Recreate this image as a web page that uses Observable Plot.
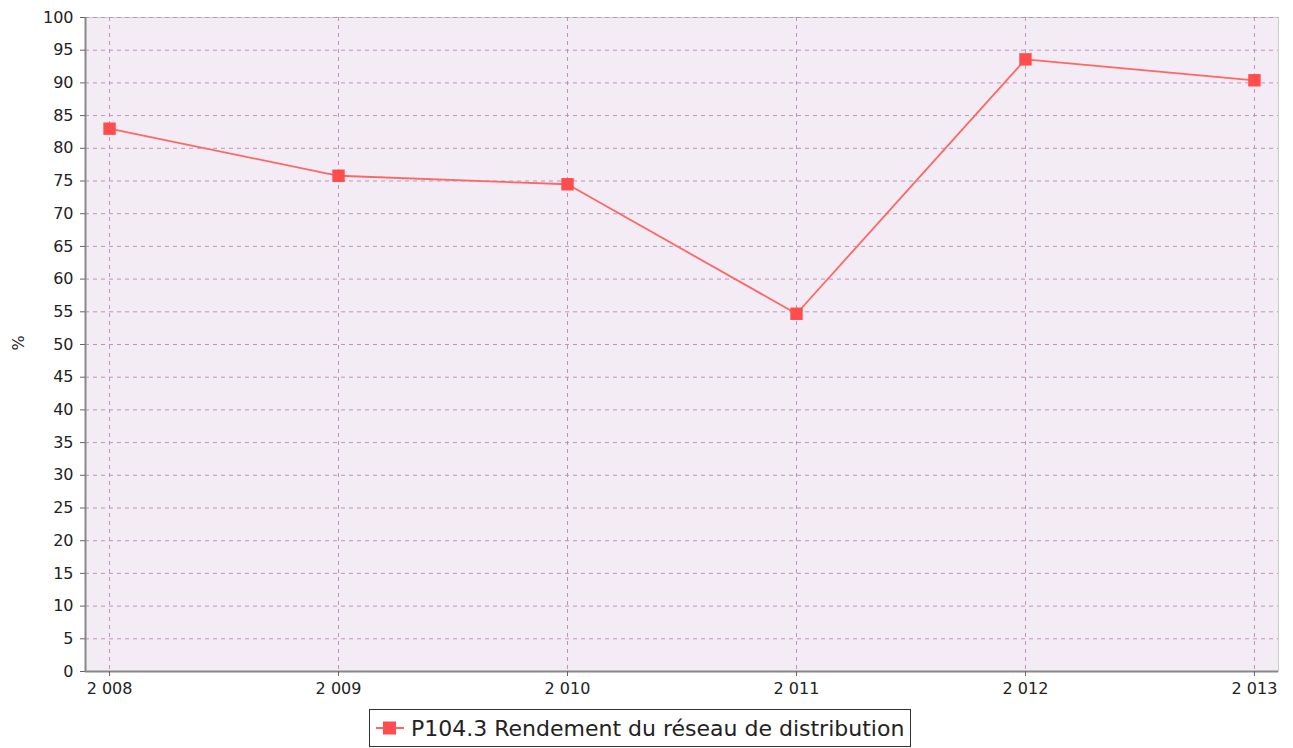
<!DOCTYPE html>
<html>
<head>
<meta charset="utf-8">
<script src="https://cdn.jsdelivr.net/npm/d3@7"></script>
<script src="https://cdn.jsdelivr.net/npm/@observablehq/plot@0.6"></script>
<style>
  body { margin: 0; background: #fff; font-family: "DejaVu Sans", sans-serif; }
  #wrap { position: relative; width: 1293px; height: 748px; overflow: hidden; }
  #chart { position: absolute; left: 0; top: 0; }
  #ylabel { position: absolute; left: 18px; top: 343px; transform: translate(-50%, -50%) rotate(-90deg); font-size: 16px; color: #222; }
  #legend { position: absolute; left: 369px; top: 709px; height: 36px; padding: 0 6px 0 6px; border: 1.5px solid #333; background: #fff; display: flex; align-items: center; font-size: 22px; color: #222; white-space: nowrap; }
  #legend svg { margin-right: 7px; }
</style>
</head>
<body>
<div id="wrap">
  <div id="chart"></div>
  <div id="ylabel">%</div>
  <div id="legend"></div>
</div>
<script>
const years = [2008, 2009, 2010, 2011, 2012, 2013];
const yearLabels = ["2 008", "2 009", "2 010", "2 011", "2 012", "2 013"];
const values = [83.0, 75.8, 74.5, 54.7, 93.6, 90.4];
const yTicks = [0, 5, 10, 15, 20, 25, 30, 35, 40, 45, 50, 55, 60, 65, 70, 75, 80, 85, 90, 95, 100];
const seriesName = "P104.3 Rendement du réseau de distribution";

const data = years.map((y, i) => ({year: y, value: values[i]}));
const xDomain = [2007.895, 2013.105];
const gridColor = "#b98ab9";

const chart = Plot.plot({
  width: 1293,
  height: 705,
  marginLeft: 85,
  marginRight: 15,
  marginTop: 17,
  marginBottom: 34,
  style: {fontFamily: "DejaVu Sans", fontSize: "16px", color: "#222", background: "transparent"},
  x: {type: "linear", domain: xDomain},
  y: {domain: [0, 100]},
  marks: [
    Plot.frame({fill: "#f3ecf4", stroke: "#cccccc"}),
    Plot.gridX(years, {stroke: gridColor, strokeOpacity: 0.9, strokeDasharray: "4,4"}),
    Plot.gridY(yTicks, {stroke: gridColor, strokeOpacity: 0.9, strokeDasharray: "4,4"}),
    Plot.ruleX([xDomain[0]], {stroke: "#888", strokeWidth: 2}),
    Plot.ruleY([0], {stroke: "#888", strokeWidth: 2}),
    Plot.axisX(years, {tickSize: 5, tickPadding: 6, tickFormat: (d, i) => yearLabels[years.indexOf(d)], stroke: "#666", label: null, fontSize: 16}),
    Plot.axisY(yTicks, {tickSize: 5, tickPadding: 7, stroke: "#666", label: null, fontSize: 16}),
    Plot.line(data, {x: "year", y: "value", stroke: "#ff6666", strokeWidth: 1.8}),
    Plot.dot(data, {x: "year", y: "value", symbol: "square", r: 7, fill: "#ff4d4d", stroke: "none"})
  ]
});
document.getElementById("chart").appendChild(chart);

const legend = document.getElementById("legend");
legend.innerHTML = `<svg width="28" height="16"><line x1="0" x2="28" y1="8" y2="8" stroke="#ff6666" stroke-width="2"/><rect x="7" y="1.5" width="13" height="13" fill="#ff4d4d"/></svg><span>${seriesName}</span>`;
</script>
</body>
</html>
